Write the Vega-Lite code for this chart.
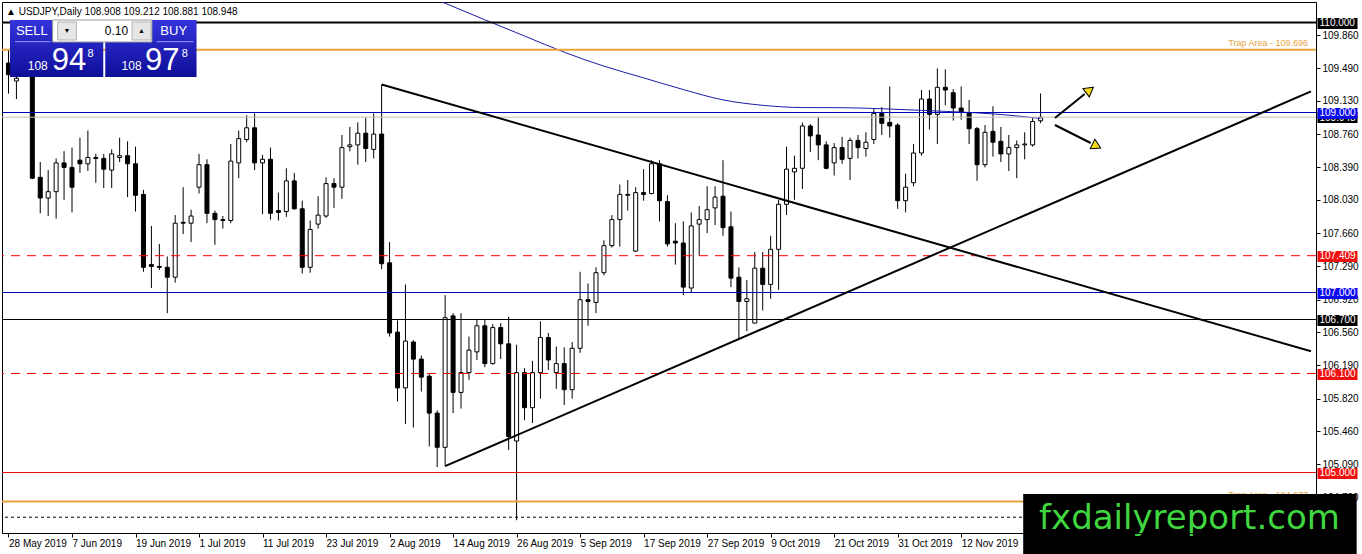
{
  "$schema": "https://vega.github.io/schema/vega-lite/v6.json",
  "width": 1314,
  "height": 531,
  "autosize": "none",
  "padding": {"left": 2, "top": 2, "right": 46, "bottom": 21},
  "background": "white",
  "config": {
    "view": {"stroke": "black", "strokeWidth": 1},
    "font": "Liberation Sans",
    "axis": {"grid": false, "title": null, "labelFont": "Liberation Sans"},
    "text": {"font": "Liberation Sans"}
  },
  "title": {
    "text": "▲ USDJPY,Daily  108.908 109.212 108.881 108.948",
    "anchor": "start", "frame": "group", "orient": "top",
    "offset": -12, "baseline": "alphabetic", "dx": 4, "dy": 11,
    "fontSize": 10, "fontWeight": "normal", "color": "black", "font": "Liberation Sans"
  },
  "datasets": {
    "one": [{}],
    "bars": [
      {"d": "2019-05-28", "o": 109.55, "h": 109.70, "l": 109.21, "c": 109.42},
      {"d": "2019-05-29", "o": 109.35, "h": 109.60, "l": 109.15, "c": 109.38},
      {"d": "2019-05-30", "o": 109.50, "h": 109.72, "l": 109.42, "c": 109.60},
      {"d": "2019-05-31", "o": 109.60, "h": 109.66, "l": 108.26, "c": 108.27},
      {"d": "2019-06-03", "o": 108.28, "h": 108.45, "l": 107.88, "c": 108.05},
      {"d": "2019-06-04", "o": 108.05, "h": 108.36, "l": 107.85, "c": 108.12},
      {"d": "2019-06-05", "o": 108.12, "h": 108.49, "l": 107.82, "c": 108.44},
      {"d": "2019-06-06", "o": 108.44, "h": 108.57, "l": 108.03, "c": 108.39},
      {"d": "2019-06-07", "o": 108.39, "h": 108.61, "l": 107.89, "c": 108.17},
      {"d": "2019-06-10", "o": 108.47, "h": 108.72, "l": 108.33, "c": 108.43},
      {"d": "2019-06-11", "o": 108.43, "h": 108.80, "l": 108.35, "c": 108.50},
      {"d": "2019-06-12", "o": 108.50, "h": 108.54, "l": 108.22, "c": 108.49},
      {"d": "2019-06-13", "o": 108.49, "h": 108.54, "l": 108.16, "c": 108.37},
      {"d": "2019-06-14", "o": 108.36, "h": 108.59, "l": 108.16, "c": 108.54},
      {"d": "2019-06-17", "o": 108.50, "h": 108.72, "l": 108.45, "c": 108.52},
      {"d": "2019-06-18", "o": 108.52, "h": 108.68, "l": 108.06, "c": 108.43},
      {"d": "2019-06-19", "o": 108.43, "h": 108.62, "l": 107.90, "c": 108.08},
      {"d": "2019-06-20", "o": 108.09, "h": 108.14, "l": 107.23, "c": 107.28},
      {"d": "2019-06-21", "o": 107.31, "h": 107.74, "l": 107.05, "c": 107.29},
      {"d": "2019-06-24", "o": 107.29, "h": 107.54, "l": 107.25, "c": 107.28},
      {"d": "2019-06-25", "o": 107.28, "h": 107.40, "l": 106.77, "c": 107.17},
      {"d": "2019-06-26", "o": 107.17, "h": 107.86, "l": 107.11, "c": 107.77},
      {"d": "2019-06-27", "o": 107.78, "h": 108.17, "l": 107.65, "c": 107.77},
      {"d": "2019-06-28", "o": 107.77, "h": 107.92, "l": 107.56, "c": 107.85},
      {"d": "2019-07-01", "o": 108.17, "h": 108.54, "l": 108.10, "c": 108.42},
      {"d": "2019-07-02", "o": 108.42, "h": 108.48, "l": 107.77, "c": 107.88},
      {"d": "2019-07-03", "o": 107.88, "h": 107.91, "l": 107.53, "c": 107.81},
      {"d": "2019-07-04", "o": 107.80, "h": 107.85, "l": 107.71, "c": 107.81},
      {"d": "2019-07-05", "o": 107.80, "h": 108.65, "l": 107.77, "c": 108.46},
      {"d": "2019-07-08", "o": 108.44, "h": 108.80, "l": 108.27, "c": 108.71},
      {"d": "2019-07-09", "o": 108.70, "h": 108.97, "l": 108.67, "c": 108.83},
      {"d": "2019-07-10", "o": 108.83, "h": 108.99, "l": 108.36, "c": 108.44},
      {"d": "2019-07-11", "o": 108.44, "h": 108.53, "l": 107.87, "c": 108.48},
      {"d": "2019-07-12", "o": 108.48, "h": 108.61, "l": 107.81, "c": 107.88},
      {"d": "2019-07-15", "o": 107.91, "h": 108.11, "l": 107.80, "c": 107.89},
      {"d": "2019-07-16", "o": 107.90, "h": 108.38, "l": 107.84, "c": 108.24},
      {"d": "2019-07-17", "o": 108.24, "h": 108.33, "l": 107.92, "c": 107.93},
      {"d": "2019-07-18", "o": 107.93, "h": 108.02, "l": 107.21, "c": 107.28},
      {"d": "2019-07-19", "o": 107.28, "h": 107.80, "l": 107.22, "c": 107.70},
      {"d": "2019-07-22", "o": 107.76, "h": 108.07, "l": 107.71, "c": 107.86},
      {"d": "2019-07-23", "o": 107.85, "h": 108.28, "l": 107.83, "c": 108.21},
      {"d": "2019-07-24", "o": 108.21, "h": 108.27, "l": 107.94, "c": 108.17},
      {"d": "2019-07-25", "o": 108.17, "h": 108.75, "l": 108.04, "c": 108.61},
      {"d": "2019-07-26", "o": 108.62, "h": 108.84, "l": 108.57, "c": 108.64},
      {"d": "2019-07-29", "o": 108.64, "h": 108.89, "l": 108.42, "c": 108.77},
      {"d": "2019-07-30", "o": 108.77, "h": 108.94, "l": 108.45, "c": 108.60},
      {"d": "2019-07-31", "o": 108.59, "h": 108.99, "l": 108.49, "c": 108.76},
      {"d": "2019-08-01", "o": 108.76, "h": 109.31, "l": 107.26, "c": 107.32},
      {"d": "2019-08-02", "o": 107.33, "h": 107.56, "l": 106.51, "c": 106.55},
      {"d": "2019-08-05", "o": 106.56, "h": 106.69, "l": 105.79, "c": 105.94},
      {"d": "2019-08-06", "o": 105.94, "h": 107.09, "l": 105.54, "c": 106.46, "ma": 110.39},
      {"d": "2019-08-07", "o": 106.45, "h": 106.47, "l": 105.50, "c": 106.26},
      {"d": "2019-08-08", "o": 106.26, "h": 106.30, "l": 105.90, "c": 106.06},
      {"d": "2019-08-09", "o": 106.07, "h": 106.10, "l": 105.29, "c": 105.66},
      {"d": "2019-08-12", "o": 105.66, "h": 105.69, "l": 105.06, "c": 105.28},
      {"d": "2019-08-13", "o": 105.28, "h": 106.97, "l": 105.07, "c": 106.72, "ma": 110.214},
      {"d": "2019-08-14", "o": 106.74, "h": 106.77, "l": 105.66, "c": 105.89},
      {"d": "2019-08-15", "o": 105.89, "h": 106.77, "l": 105.71, "c": 106.11},
      {"d": "2019-08-16", "o": 106.11, "h": 106.51, "l": 106.03, "c": 106.36},
      {"d": "2019-08-19", "o": 106.34, "h": 106.70, "l": 106.25, "c": 106.63},
      {"d": "2019-08-20", "o": 106.63, "h": 106.70, "l": 106.17, "c": 106.21, "ma": 110.03},
      {"d": "2019-08-21", "o": 106.21, "h": 106.65, "l": 106.20, "c": 106.61},
      {"d": "2019-08-22", "o": 106.61, "h": 106.66, "l": 106.26, "c": 106.43},
      {"d": "2019-08-23", "o": 106.43, "h": 106.73, "l": 105.25, "c": 105.40},
      {"d": "2019-08-26", "o": 105.35, "h": 106.42, "l": 104.47, "c": 106.11},
      {"d": "2019-08-27", "o": 106.11, "h": 106.16, "l": 105.58, "c": 105.72, "ma": 109.85},
      {"d": "2019-08-28", "o": 105.72, "h": 106.24, "l": 105.55, "c": 106.11},
      {"d": "2019-08-29", "o": 106.11, "h": 106.68, "l": 105.82, "c": 106.50},
      {"d": "2019-08-30", "o": 106.50, "h": 106.55, "l": 106.14, "c": 106.25},
      {"d": "2019-09-02", "o": 106.11, "h": 106.40, "l": 105.93, "c": 106.21},
      {"d": "2019-09-03", "o": 106.21, "h": 106.39, "l": 105.75, "c": 105.92, "ma": 109.67},
      {"d": "2019-09-04", "o": 105.92, "h": 106.45, "l": 105.82, "c": 106.38},
      {"d": "2019-09-05", "o": 106.38, "h": 107.23, "l": 106.33, "c": 106.92},
      {"d": "2019-09-06", "o": 106.92, "h": 107.10, "l": 106.63, "c": 106.90},
      {"d": "2019-09-09", "o": 106.89, "h": 107.28, "l": 106.77, "c": 107.22},
      {"d": "2019-09-10", "o": 107.22, "h": 107.58, "l": 107.19, "c": 107.52, "ma": 109.515},
      {"d": "2019-09-11", "o": 107.52, "h": 107.86, "l": 107.50, "c": 107.81},
      {"d": "2019-09-12", "o": 107.81, "h": 108.20, "l": 107.51, "c": 108.09},
      {"d": "2019-09-13", "o": 108.08, "h": 108.25, "l": 107.91, "c": 108.09},
      {"d": "2019-09-16", "o": 107.46, "h": 108.17, "l": 107.45, "c": 108.11},
      {"d": "2019-09-17", "o": 108.11, "h": 108.37, "l": 108.02, "c": 108.09, "ma": 109.385},
      {"d": "2019-09-18", "o": 108.10, "h": 108.47, "l": 108.09, "c": 108.43},
      {"d": "2019-09-19", "o": 108.43, "h": 108.47, "l": 107.79, "c": 108.02},
      {"d": "2019-09-20", "o": 108.01, "h": 108.08, "l": 107.51, "c": 107.54},
      {"d": "2019-09-23", "o": 107.57, "h": 107.77, "l": 107.31, "c": 107.55},
      {"d": "2019-09-24", "o": 107.55, "h": 107.79, "l": 106.97, "c": 107.06, "ma": 109.255},
      {"d": "2019-09-25", "o": 107.05, "h": 107.89, "l": 107.00, "c": 107.74},
      {"d": "2019-09-26", "o": 107.76, "h": 107.96, "l": 107.41, "c": 107.81},
      {"d": "2019-09-27", "o": 107.81, "h": 108.18, "l": 107.66, "c": 107.92},
      {"d": "2019-09-30", "o": 107.94, "h": 108.18, "l": 107.75, "c": 108.06},
      {"d": "2019-10-01", "o": 108.07, "h": 108.47, "l": 107.63, "c": 107.72, "ma": 109.14},
      {"d": "2019-10-02", "o": 107.73, "h": 107.90, "l": 107.06, "c": 107.16},
      {"d": "2019-10-03", "o": 107.17, "h": 107.28, "l": 106.48, "c": 106.90},
      {"d": "2019-10-04", "o": 106.90, "h": 107.14, "l": 106.57, "c": 106.93},
      {"d": "2019-10-07", "o": 106.66, "h": 107.45, "l": 106.66, "c": 107.27},
      {"d": "2019-10-08", "o": 107.27, "h": 107.45, "l": 106.80, "c": 107.09, "ma": 109.08},
      {"d": "2019-10-09", "o": 107.09, "h": 107.63, "l": 106.93, "c": 107.48},
      {"d": "2019-10-10", "o": 107.48, "h": 108.03, "l": 107.03, "c": 107.98},
      {"d": "2019-10-11", "o": 107.98, "h": 108.62, "l": 107.86, "c": 108.37},
      {"d": "2019-10-14", "o": 108.34, "h": 108.52, "l": 108.03, "c": 108.38},
      {"d": "2019-10-15", "o": 108.38, "h": 108.89, "l": 108.15, "c": 108.85, "ma": 109.055},
      {"d": "2019-10-16", "o": 108.85, "h": 108.87, "l": 108.56, "c": 108.74},
      {"d": "2019-10-17", "o": 108.75, "h": 108.95, "l": 108.47, "c": 108.64},
      {"d": "2019-10-18", "o": 108.64, "h": 108.68, "l": 108.37, "c": 108.38},
      {"d": "2019-10-21", "o": 108.44, "h": 108.66, "l": 108.30, "c": 108.61},
      {"d": "2019-10-22", "o": 108.61, "h": 108.73, "l": 108.43, "c": 108.48, "ma": 109.053},
      {"d": "2019-10-23", "o": 108.49, "h": 108.72, "l": 108.25, "c": 108.69},
      {"d": "2019-10-24", "o": 108.69, "h": 108.75, "l": 108.49, "c": 108.61},
      {"d": "2019-10-25", "o": 108.60, "h": 108.78, "l": 108.51, "c": 108.67},
      {"d": "2019-10-28", "o": 108.70, "h": 109.04, "l": 108.65, "c": 108.99},
      {"d": "2019-10-29", "o": 108.99, "h": 109.06, "l": 108.75, "c": 108.88, "ma": 109.042},
      {"d": "2019-10-30", "o": 108.89, "h": 109.29, "l": 108.72, "c": 108.85},
      {"d": "2019-10-31", "o": 108.86, "h": 108.88, "l": 107.93, "c": 108.02},
      {"d": "2019-11-01", "o": 108.02, "h": 108.32, "l": 107.89, "c": 108.17},
      {"d": "2019-11-04", "o": 108.22, "h": 108.65, "l": 108.18, "c": 108.55},
      {"d": "2019-11-05", "o": 108.55, "h": 109.25, "l": 108.52, "c": 109.15, "ma": 109.024},
      {"d": "2019-11-06", "o": 109.15, "h": 109.25, "l": 108.81, "c": 108.98},
      {"d": "2019-11-07", "o": 108.98, "h": 109.49, "l": 108.65, "c": 109.28},
      {"d": "2019-11-08", "o": 109.28, "h": 109.48, "l": 109.08, "c": 109.25},
      {"d": "2019-11-11", "o": 109.22, "h": 109.26, "l": 108.91, "c": 109.05},
      {"d": "2019-11-12", "o": 109.05, "h": 109.29, "l": 108.92, "c": 109.00, "ma": 109.005},
      {"d": "2019-11-13", "o": 109.00, "h": 109.14, "l": 108.65, "c": 108.82},
      {"d": "2019-11-14", "o": 108.82, "h": 108.84, "l": 108.24, "c": 108.42},
      {"d": "2019-11-15", "o": 108.42, "h": 108.86, "l": 108.39, "c": 108.78},
      {"d": "2019-11-18", "o": 108.79, "h": 109.07, "l": 108.51, "c": 108.67},
      {"d": "2019-11-19", "o": 108.68, "h": 108.84, "l": 108.45, "c": 108.54, "ma": 108.978},
      {"d": "2019-11-20", "o": 108.54, "h": 108.75, "l": 108.35, "c": 108.61},
      {"d": "2019-11-21", "o": 108.61, "h": 108.69, "l": 108.27, "c": 108.64},
      {"d": "2019-11-22", "o": 108.64, "h": 108.78, "l": 108.48, "c": 108.65},
      {"d": "2019-11-25", "o": 108.64, "h": 108.94, "l": 108.62, "c": 108.90},
      {"d": "2019-11-26", "o": 108.908, "h": 109.212, "l": 108.881, "c": 108.948, "ma": 108.934}
    ],
    "trend": [
      {"t": "down", "n": 48, "p": 109.312},
      {"t": "down", "n": 165.06, "p": 106.347},
      {"t": "up", "n": 56, "p": 105.07},
      {"t": "up", "n": 165.06, "p": 109.234}
    ]
  },
  "layer": [
    {
      "data": {"name": "bars"},
      "transform": [{"window": [{"op": "row_number", "as": "n"}], "sort": [{"field": "d"}]}],
      "mark": {"type": "rule", "color": "black", "strokeWidth": 1, "clip": true},
      "encoding": {
        "x": {
          "field": "n", "type": "quantitative",
          "scale": {"domain": [0.8125, 165.0625], "nice": false, "zero": false},
          "axis": {
            "orient": "bottom",
            "values": [1, 9, 17, 25, 33, 41, 49, 57, 65, 73, 81, 89, 97, 105, 113, 121],
            "labelExpr": "datum.value == 1 ? '28 May 2019' : datum.value == 9 ? '7 Jun 2019' : datum.value == 17 ? '19 Jun 2019' : datum.value == 25 ? '1 Jul 2019' : datum.value == 33 ? '11 Jul 2019' : datum.value == 41 ? '23 Jul 2019' : datum.value == 49 ? '2 Aug 2019' : datum.value == 57 ? '14 Aug 2019' : datum.value == 65 ? '26 Aug 2019' : datum.value == 73 ? '5 Sep 2019' : datum.value == 81 ? '17 Sep 2019' : datum.value == 89 ? '27 Sep 2019' : datum.value == 97 ? '9 Oct 2019' : datum.value == 105 ? '21 Oct 2019' : datum.value == 113 ? '31 Oct 2019' : '12 Nov 2019'",
            "tickSize": 4, "tickColor": "black", "domainColor": "black",
            "labelColor": "black", "labelFontSize": 10, "labelAlign": "left",
            "labelBaseline": "top", "labelPadding": 1,
            "labelOverlap": false, "labelFlush": false, "title": null, "zindex": 1
          }
        },
        "y": {
          "field": "l", "type": "quantitative",
          "scale": {"domain": [104.3278, 110.2278], "nice": false, "zero": false},
          "axis": {
            "orient": "right",
            "values": [109.86, 109.49, 109.13, 108.76, 108.39, 108.03, 107.66, 107.29, 106.92, 106.56, 106.19, 105.82, 105.46, 105.09, 104.72],
            "format": ".3f", "tickSize": 4, "tickColor": "black", "domainColor": "black",
            "labelColor": "black", "labelFontSize": 10, "labelPadding": 2,
            "labelOverlap": false, "labelFlush": false, "title": null
          }
        },
        "y2": {"field": "h"}
      }
    },
    {
      "data": {"name": "bars"},
      "transform": [{"window": [{"op": "row_number", "as": "n"}], "sort": [{"field": "d"}]}],
      "mark": {"type": "bar", "orient": "vertical", "size": 4, "stroke": "black", "strokeWidth": 1, "clip": true},
      "encoding": {
        "x": {"field": "n", "type": "quantitative", "axis": null},
        "y": {"field": "o", "type": "quantitative", "axis": null},
        "y2": {"field": "c"},
        "fill": {"condition": {"test": "datum.c > datum.o", "value": "white"}, "value": "black"}
      }
    },
    {
      "data": {"name": "bars"},
      "transform": [
        {"window": [{"op": "row_number", "as": "n"}], "sort": [{"field": "d"}]},
        {"filter": "isValid(datum.ma)"}
      ],
      "mark": {"type": "line", "color": "#1c1ca8", "strokeWidth": 1, "interpolate": "monotone", "clip": true},
      "encoding": {
        "x": {"field": "n", "type": "quantitative", "axis": null},
        "y": {"field": "ma", "type": "quantitative", "axis": null}
      }
    },
    {
      "data": {"name": "one"},
      "mark": {"type": "rule", "color": "black", "strokeWidth": 2},
      "encoding": {
        "y": {
          "datum": 110,
          "axis": {
            "orient": "right", "offset": 1, "values": [110, 108.948, 106.7], "format": ".3f",
            "domain": false, "tickColor": "black", "tickSize": 40, "tickWidth": 11,
            "labelColor": "white", "labelFontSize": 10, "labelPadding": -38, "labelAlign": "left",
            "labelOverlap": false, "labelFlush": false, "title": null
          }
        }
      }
    },
    {
      "data": {"name": "one"},
      "mark": {"type": "rule", "color": "#0000b4", "strokeWidth": 1},
      "encoding": {
        "y": {
          "datum": 109,
          "axis": {
            "orient": "right", "offset": 1, "values": [109, 107], "format": ".3f",
            "domain": false, "tickColor": "#0a0af0", "tickSize": 40, "tickWidth": 11,
            "labelColor": "white", "labelFontSize": 10, "labelPadding": -38, "labelAlign": "left",
            "labelOverlap": false, "labelFlush": false, "title": null
          }
        }
      }
    },
    {
      "data": {"name": "one"},
      "mark": {"type": "rule", "color": "#ff0000", "strokeWidth": 1, "strokeDash": [9, 7]},
      "encoding": {
        "y": {
          "datum": 107.409,
          "axis": {
            "orient": "right", "offset": 1, "values": [107.409, 106.1, 105], "format": ".3f",
            "domain": false, "tickColor": "#f01010", "tickSize": 40, "tickWidth": 11,
            "labelColor": "white", "labelFontSize": 10, "labelPadding": -38, "labelAlign": "left",
            "labelOverlap": false, "labelFlush": false, "title": null
          }
        }
      }
    },
    {
      "data": {"name": "one"},
      "mark": {"type": "rule", "color": "#c0c0c0", "strokeWidth": 1},
      "encoding": {"y": {"datum": 108.948, "axis": null}}
    },
    {
      "data": {"name": "one"},
      "mark": {"type": "rule", "color": "#0000b4", "strokeWidth": 1},
      "encoding": {"y": {"datum": 107, "axis": null}}
    },
    {
      "data": {"name": "one"},
      "mark": {"type": "rule", "color": "black", "strokeWidth": 1},
      "encoding": {"y": {"datum": 106.7, "axis": null}}
    },
    {
      "data": {"name": "one"},
      "mark": {"type": "rule", "color": "#ff0000", "strokeWidth": 1, "strokeDash": [9, 7]},
      "encoding": {"y": {"datum": 106.1, "axis": null}}
    },
    {
      "data": {"name": "one"},
      "mark": {"type": "rule", "color": "#e01010", "strokeWidth": 1},
      "encoding": {"y": {"datum": 105, "axis": null}}
    },
    {
      "data": {"name": "one"},
      "mark": {"type": "rule", "color": "#e8a33a", "strokeWidth": 2},
      "encoding": {"y": {"datum": 109.696, "axis": null}}
    },
    {
      "data": {"name": "one"},
      "mark": {"type": "rule", "color": "#e8a33a", "strokeWidth": 2},
      "encoding": {"y": {"datum": 104.677, "axis": null}}
    },
    {
      "data": {"name": "one"},
      "mark": {"type": "rule", "color": "black", "strokeWidth": 1, "strokeDash": [3, 3]},
      "encoding": {"y": {"datum": 104.503, "axis": null}}
    },
    {
      "data": {"name": "trend"},
      "mark": {"type": "line", "color": "black", "strokeWidth": 2, "clip": true},
      "encoding": {
        "x": {"field": "n", "type": "quantitative", "axis": null},
        "y": {"field": "p", "type": "quantitative", "axis": null},
        "detail": {"field": "t"}
      }
    },
    {
      "data": {"name": "one"},
      "mark": {"type": "text", "text": "Trap Area - 109.696", "fontSize": 9, "color": "#e8a33a", "align": "right", "baseline": "bottom", "dy": -2},
      "encoding": {"x": {"datum": 164.69, "axis": null}, "y": {"datum": 109.696, "axis": null}}
    },
    {
      "data": {"name": "one"},
      "mark": {"type": "text", "text": "Trap Area - 104.677", "fontSize": 9, "color": "#e8a33a", "align": "right", "baseline": "bottom", "dy": -2},
      "encoding": {"x": {"datum": 164.69, "axis": null}, "y": {"datum": 104.677, "axis": null}}
    },
    {
      "data": {"name": "one"},
      "mark": {"type": "rule", "color": "black", "strokeWidth": 2},
      "encoding": {
        "x": {"datum": 132.81, "axis": null}, "x2": {"datum": 136.56},
        "y": {"datum": 108.939, "axis": null}, "y2": {"datum": 109.206}
      }
    },
    {
      "data": {"name": "one"},
      "mark": {"type": "rule", "color": "black", "strokeWidth": 2},
      "encoding": {
        "x": {"datum": 132.81, "axis": null}, "x2": {"datum": 137.31},
        "y": {"datum": 108.861, "axis": null}, "y2": {"datum": 108.661}
      }
    },
    {
      "data": {"name": "one"},
      "mark": {"type": "point", "shape": "triangle-up", "size": 110, "filled": true, "fill": "#f5dc1b", "stroke": "black", "strokeWidth": 1, "opacity": 1, "angle": 52.6},
      "encoding": {"x": {"datum": 137.19, "axis": null}, "y": {"datum": 109.25, "axis": null}}
    },
    {
      "data": {"name": "one"},
      "mark": {"type": "point", "shape": "triangle-up", "size": 110, "filled": true, "fill": "#f5dc1b", "stroke": "black", "strokeWidth": 1, "opacity": 1, "angle": 116.6},
      "encoding": {"x": {"datum": 138.06, "axis": null}, "y": {"datum": 108.628, "axis": null}}
    },
    {
      "data": {"name": "one"},
      "layer": [
        {
          "mark": {"type": "rect", "fill": {"x1": 0, "y1": 0, "x2": 0, "y2": 1, "gradient": "linear", "stops": [{"offset": 0, "color": "#3434dc"}, {"offset": 1, "color": "#0e0e98"}]}},
          "encoding": {"x": {"datum": 1.1875, "axis": null}, "x2": {"datum": 12.9375}, "y": {"datum": 110.0278, "axis": null}, "y2": {"datum": 109.3944}}
        },
        {
          "mark": {"type": "rect", "fill": {"x1": 0, "y1": 0, "x2": 0, "y2": 1, "gradient": "linear", "stops": [{"offset": 0, "color": "#3434dc"}, {"offset": 1, "color": "#0e0e98"}]}},
          "encoding": {"x": {"datum": 13.1875, "axis": null}, "x2": {"datum": 24.6875}, "y": {"datum": 110.0278, "axis": null}, "y2": {"datum": 109.3944}}
        },
        {
          "mark": {"type": "rect", "fill": "white", "stroke": "#9a9a9a", "strokeWidth": 1},
          "encoding": {"x": {"datum": 6.5625, "axis": null}, "x2": {"datum": 19.0625}, "y": {"datum": 110.0278, "axis": null}, "y2": {"datum": 109.7833}}
        },
        {
          "mark": {"type": "rect", "fill": "#e6e6e6", "stroke": "#b4b4b4", "strokeWidth": 1},
          "encoding": {"x": {"datum": 7.1875, "axis": null}, "x2": {"datum": 9.5625}, "y": {"datum": 110.0056, "axis": null}, "y2": {"datum": 109.8056}}
        },
        {
          "mark": {"type": "rect", "fill": "#e6e6e6", "stroke": "#b4b4b4", "strokeWidth": 1},
          "encoding": {"x": {"datum": 16.5625, "axis": null}, "x2": {"datum": 18.9375}, "y": {"datum": 110.0056, "axis": null}, "y2": {"datum": 109.8056}}
        },
        {
          "mark": {"type": "rule", "color": "#9a9aff", "strokeWidth": 1},
          "encoding": {"x": {"datum": 1.8125, "axis": null}, "x2": {"datum": 6.3125}, "y": {"datum": 109.7867, "axis": null}}
        },
        {
          "mark": {"type": "rule", "color": "#9a9aff", "strokeWidth": 1},
          "encoding": {"x": {"datum": 19.6875, "axis": null}, "x2": {"datum": 24.3125}, "y": {"datum": 109.7867, "axis": null}}
        },
        {
          "mark": {"type": "text", "text": "▼", "fontSize": 7, "color": "black", "align": "center", "baseline": "middle"},
          "encoding": {"x": {"datum": 8.375, "axis": null}, "y": {"datum": 109.9056, "axis": null}}
        },
        {
          "mark": {"type": "text", "text": "▲", "fontSize": 7, "color": "black", "align": "center", "baseline": "middle"},
          "encoding": {"x": {"datum": 17.75, "axis": null}, "y": {"datum": 109.9056, "axis": null}}
        },
        {
          "mark": {"type": "text", "text": "0.10", "fontSize": 12, "color": "black", "align": "right", "baseline": "middle"},
          "encoding": {"x": {"datum": 16.0625, "axis": null}, "y": {"datum": 109.9056, "axis": null}}
        },
        {
          "mark": {"type": "text", "text": "SELL", "fontSize": 13, "color": "white", "align": "center", "baseline": "middle"},
          "encoding": {"x": {"datum": 3.9375, "axis": null}, "y": {"datum": 109.9056, "axis": null}}
        },
        {
          "mark": {"type": "text", "text": "BUY", "fontSize": 13, "color": "white", "align": "center", "baseline": "middle"},
          "encoding": {"x": {"datum": 21.8125, "axis": null}, "y": {"datum": 109.9056, "axis": null}}
        },
        {
          "mark": {"type": "text", "text": "108", "fontSize": 12, "color": "white", "align": "center", "baseline": "alphabetic"},
          "encoding": {"x": {"datum": 4.6875, "axis": null}, "y": {"datum": 109.4722, "axis": null}}
        },
        {
          "mark": {"type": "text", "text": "94", "fontSize": 31, "color": "white", "align": "left", "baseline": "alphabetic"},
          "encoding": {"x": {"datum": 6.4375, "axis": null}, "y": {"datum": 109.4722, "axis": null}}
        },
        {
          "mark": {"type": "text", "text": "8", "fontSize": 11, "color": "white", "align": "left", "baseline": "alphabetic"},
          "encoding": {"x": {"datum": 10.9375, "axis": null}, "y": {"datum": 109.62, "axis": null}}
        },
        {
          "mark": {"type": "text", "text": "108", "fontSize": 12, "color": "white", "align": "center", "baseline": "alphabetic"},
          "encoding": {"x": {"datum": 16.5, "axis": null}, "y": {"datum": 109.4722, "axis": null}}
        },
        {
          "mark": {"type": "text", "text": "97", "fontSize": 31, "color": "white", "align": "left", "baseline": "alphabetic"},
          "encoding": {"x": {"datum": 18.1875, "axis": null}, "y": {"datum": 109.4722, "axis": null}}
        },
        {
          "mark": {"type": "text", "text": "8", "fontSize": 11, "color": "white", "align": "left", "baseline": "alphabetic"},
          "encoding": {"x": {"datum": 22.8125, "axis": null}, "y": {"datum": 109.62, "axis": null}}
        }
      ]
    },
    {
      "data": {"name": "one"},
      "layer": [
        {
          "mark": {"type": "rect", "fill": "black", "clip": false},
          "encoding": {"x": {"datum": 128.8125, "axis": null}, "x2": {"datum": 170.8125}, "y": {"datum": 104.7611, "axis": null}, "y2": {"datum": 104.0944}}
        },
        {
          "mark": {"type": "text", "text": "fxdailyreport.com", "font": "DejaVu Sans", "fontSize": 34, "color": "#3fd63f", "align": "left", "baseline": "alphabetic", "clip": false},
          "encoding": {"x": {"datum": 130.8125, "axis": null}, "y": {"datum": 104.3722, "axis": null}}
        }
      ]
    }
  ],
  "resolve": {"axis": {"x": "independent", "y": "independent"}}
}
